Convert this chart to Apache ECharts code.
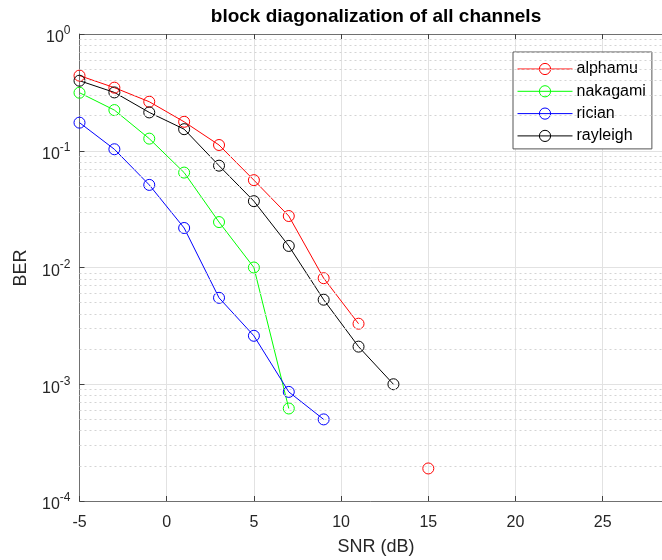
<!DOCTYPE html>
<html>
<head>
<meta charset="utf-8">
<script src="https://cdn.jsdelivr.net/npm/echarts@6/dist/echarts.min.js"></script>
<style>html,body{margin:0;padding:0;background:#fff}#c{width:662px;height:560px}</style>
</head>
<body>
<div id="c"></div>
<script>
var snr = [-5, -3, -1, 1, 3, 5, 7, 9, 11, 13, 15];
var alphamu = [0.44, 0.347, 0.263, 0.177, 0.112, 0.056, 0.0276, 0.0081, 0.0033, null, 0.00019];
var nakagami = [0.314, 0.223, 0.127, 0.065, 0.0245, 0.0100, 0.00062];
var rician = [0.174, 0.103, 0.051, 0.0218, 0.0055, 0.0026, 0.00086, 0.0005];
var rayleigh = [0.398, 0.316, 0.213, 0.153, 0.0745, 0.037, 0.0153, 0.0053, 0.0021, 0.0010];
var seriesNames = ['alphamu', 'nakagami', 'rician', 'rayleigh'];
var seriesColors = ['#ff0000', '#00ff00', '#0000ff', '#000000'];
var xTicks = [-5, 0, 5, 10, 15, 20, 25];
var minorDecades = [-4, -3, -2, -1];
var minorDigits = [2, 3, 4, 5, 6, 7, 8, 9];

var FONT = "'Liberation Sans', Arial, Helvetica, sans-serif";
function pairs(vals) {
  return vals.map(function (v, i) { return [snr[i], v === null ? '-' : v]; });
}
var allVals = [alphamu, nakagami, rician, rayleigh];
var minorLines = [];
minorDecades.forEach(function (k) {
  minorDigits.forEach(function (d) { minorLines.push({ yAxis: d * Math.pow(10, k) }); });
});

var series = [{
  type: 'line', data: [], silent: true, z: 1,
  markLine: {
    silent: true, symbol: ['none', 'none'], label: { show: false }, precision: 12,
    lineStyle: { color: '#d4d4d4', type: [2, 3], width: 1 },
    data: minorLines, animation: false
  }
}];
seriesNames.forEach(function (n, i) {
  series.push({
    name: n, type: 'line', data: pairs(allVals[i]), connectNulls: false,
    symbol: 'circle', symbolSize: 11, showSymbol: true, z: 3,
    lineStyle: { color: seriesColors[i], width: 1 },
    itemStyle: { color: 'rgba(0,0,0,0)', borderColor: seriesColors[i], borderWidth: 1 },
    emphasis: { disabled: true }
  });
});

var chart = echarts.init(document.getElementById('c'), null, { renderer: 'canvas' });
chart.setOption({
  animation: false,
  backgroundColor: '#ffffff',
  grid: { left: 79.5, right: 0, top: 34, bottom: 59, containLabel: false },
  xAxis: [{
    type: 'value', min: -5, max: 28.4, interval: 5, position: 'bottom',
    axisLine: { show: true, onZero: false, lineStyle: { color: '#707070', width: 1 } },
    axisTick: { show: true, inside: true, length: 5, lineStyle: { color: '#404040' } },
    axisLabel: { color: '#262626', fontSize: 16, fontFamily: FONT, margin: 14, showMaxLabel: false,
      formatter: function (v) { return xTicks.indexOf(v) >= 0 ? String(v) : ''; } },
    splitLine: { show: true, lineStyle: { color: '#e2e2e2', width: 1 } }
  }, {
    type: 'value', min: -5, max: 28.4, interval: 5, position: 'top',
    axisLine: { show: true, onZero: false, lineStyle: { color: '#707070', width: 1 } },
    axisTick: { show: true, inside: true, length: 5, lineStyle: { color: '#404040' } },
    axisLabel: { show: false }, splitLine: { show: false }
  }],
  yAxis: {
    type: 'log', logBase: 10, min: 0.0001, max: 1,
    axisLine: { show: true, onZero: false, lineStyle: { color: '#707070', width: 1 } },
    axisTick: { show: true, inside: true, length: 5, lineStyle: { color: '#404040' } },
    axisLabel: {
      margin: 9, fontFamily: FONT,
      formatter: function (v) {
        var e = Math.round(Math.log10(v));
        return '{b|10}{s|' + e + '}';
      },
      rich: {
        b: { fontSize: 16, color: '#262626', fontFamily: FONT, padding: [8, 0, 0, 0] },
        s: { fontSize: 12, color: '#262626', fontFamily: FONT, padding: [0, 0, 6, 0] }
      }
    },
    splitLine: { show: true, lineStyle: { color: '#e2e2e2', width: 1 } }
  },
  legend: {
    data: seriesNames, orient: 'vertical', left: 513, top: 52,
    padding: [9, 6, 5, 4], itemWidth: 55, itemHeight: 14, itemGap: 6.3,
    backgroundColor: '#ffffff', borderColor: '#555555', borderWidth: 1, borderRadius: 0,
    lineStyle: { width: 1 },
    itemStyle: { borderWidth: 1 },
    textStyle: { fontSize: 16, color: '#000', fontFamily: FONT, padding: [0, 0, 0, -1] },
    selectedMode: false
  },
  graphic: [
    { type: 'text', x: 376, y: 17, style: { text: 'block diagonalization of all channels', font: 'bold 19px ' + FONT, fill: '#000', align: 'center', verticalAlign: 'middle' } },
    { type: 'text', x: 376, y: 547, style: { text: 'SNR (dB)', font: '18px ' + FONT, fill: '#262626', align: 'center', verticalAlign: 'middle' } },
    { type: 'text', x: 21, y: 268, rotation: Math.PI / 2, style: { text: 'BER', font: '18px ' + FONT, fill: '#262626', align: 'center', verticalAlign: 'middle' } }
  ],
  series: series
});
</script>
</body>
</html>
